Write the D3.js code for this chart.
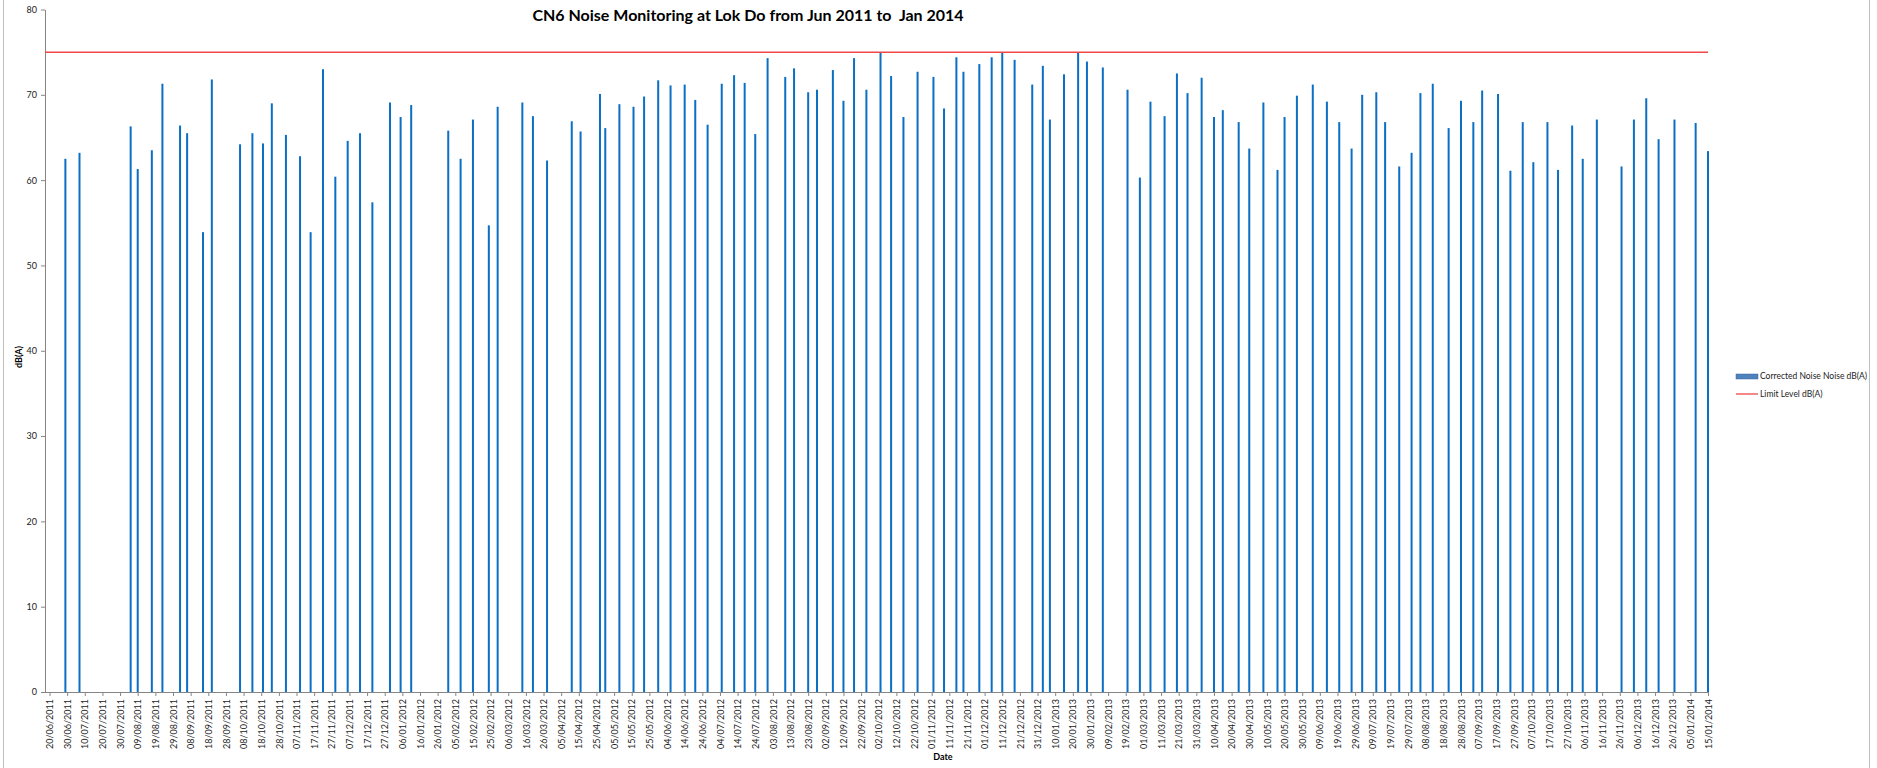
<!DOCTYPE html>
<html>
<head>
<meta charset="utf-8">
<script src="https://cdn.jsdelivr.net/npm/d3@7"></script>
<style>
  body { margin: 0; background: #fff; }
  svg { display: block; font-family: Lato, "Open Sans", sans-serif; }
  .tick text { fill: #222; }
  .axis path, .axis line { stroke: #868686; }
</style>
</head>
<body>
<script>
const WIDTH = 1877
const HEIGHT = 768
const AXIS_X = 45
const PLOT_LEFT = 49.5
const PLOT_RIGHT = 1708
const PLOT_TOP = 9.5
const PLOT_BOTTOM = 692

// measurement dates and corrected noise levels, dB(A)
var dates = [
  "29/06/2011","07/07/2011","05/08/2011","09/08/2011","17/08/2011","23/08/2011","02/09/2011","06/09/2011",
  "15/09/2011","20/09/2011","06/10/2011","13/10/2011","19/10/2011","24/10/2011","01/11/2011","09/11/2011",
  "15/11/2011","22/11/2011","29/11/2011","06/12/2011","13/12/2011","20/12/2011","30/12/2011",
  "05/01/2012","11/01/2012","01/02/2012","08/02/2012","15/02/2012","24/02/2012","29/02/2012","14/03/2012",
  "20/03/2012","28/03/2012","11/04/2012","16/04/2012","27/04/2012","30/04/2012","08/05/2012","16/05/2012",
  "22/05/2012","30/05/2012","06/06/2012","14/06/2012","20/06/2012","27/06/2012","05/07/2012","12/07/2012",
  "18/07/2012","24/07/2012","31/07/2012","10/08/2012","15/08/2012","23/08/2012","28/08/2012","06/09/2012",
  "12/09/2012","18/09/2012","25/09/2012","03/10/2012","09/10/2012","16/10/2012","24/10/2012","02/11/2012",
  "08/11/2012","15/11/2012","19/11/2012","28/11/2012","05/12/2012","11/12/2012","18/12/2012","28/12/2012",
  "03/01/2013","07/01/2013","15/01/2013","23/01/2013","28/01/2013","06/02/2013","20/02/2013","27/02/2013",
  "05/03/2013","13/03/2013","20/03/2013","26/03/2013","03/04/2013","10/04/2013","15/04/2013","24/04/2013",
  "30/04/2013","08/05/2013","16/05/2013","20/05/2013","27/05/2013","05/06/2013","13/06/2013","20/06/2013",
  "27/06/2013","03/07/2013","11/07/2013","16/07/2013","24/07/2013","31/07/2013","05/08/2013","12/08/2013",
  "21/08/2013","28/08/2013","04/09/2013","09/09/2013","18/09/2013","25/09/2013","02/10/2013","08/10/2013",
  "16/10/2013","22/10/2013","30/10/2013","05/11/2013","13/11/2013","27/11/2013","04/12/2013","11/12/2013",
  "18/12/2013","27/12/2013","08/01/2014","15/01/2014"
]
var noise = [
  62.5,63.2,66.3,61.3,63.5,71.3,66.4,65.5,
  53.9,71.8,64.2,65.5,64.3,69.0,65.3,62.8,
  53.9,73.0,60.4,64.6,65.5,57.4,69.1,
  67.4,68.8,65.8,62.5,67.1,54.7,68.6,69.1,
  67.5,62.3,66.9,65.7,70.1,66.1,68.9,68.6,
  69.8,71.7,71.1,71.2,69.4,66.5,71.3,72.3,
  71.4,65.4,74.3,72.1,73.1,70.3,70.6,72.9,
  69.3,74.3,70.6,75.0,72.2,67.4,72.7,72.1,
  68.4,74.4,72.7,73.6,74.4,75.0,74.1,71.2,
  73.4,67.1,72.4,75.0,73.9,73.2,70.6,60.3,
  69.2,67.5,72.5,70.2,72.0,67.4,68.2,66.8,
  63.7,69.1,61.2,67.4,69.9,71.2,69.2,66.8,
  63.7,70.0,70.3,66.8,61.6,63.2,70.2,71.3,
  66.1,69.3,66.8,70.5,70.1,61.1,66.8,62.1,
  66.8,61.2,66.4,62.5,67.1,61.6,67.1,69.6,
  64.8,67.1,66.7,63.4
]
var limitLevel = 75
var yTicks = [0,10,20,30,40,50,60,70,80]
var axisStart = "20/06/2011"
var axisEnd = "15/01/2014"
var tickStepDays = 10

var title = "CN6 Noise Monitoring at Lok Do from Jun 2011 to  Jan 2014"
var seriesNames = ["Corrected Noise Noise dB(A)", "Limit Level dB(A)"]

var parseDate = d3.timeParse("%d/%m/%Y")
var formatDate = d3.timeFormat("%d/%m/%Y")

var createChart = function(){
    var svg = d3.select("body").append("svg")
        .attr("width", WIDTH)
        .attr("height", HEIGHT);

    // chart area border
    svg.append("rect")
        .attr("x", 3.5).attr("y", -2)
        .attr("width", 1866).attr("height", HEIGHT + 4)
        .attr("fill", "none")
        .attr("stroke", "#bfbfbf");

    var start = parseDate(axisStart), end = parseDate(axisEnd);
    var x = d3.scaleTime().domain([start, end]).range([PLOT_LEFT, PLOT_RIGHT]);
    var y = d3.scaleLinear().domain([0, 80]).range([PLOT_BOTTOM, PLOT_TOP]);

    createAxes(svg, x, y, start, end);
    createBars(svg, x, y);
    createLimit(svg, x, y, end);
    createTitles(svg);
    createLegend(svg);
}

var createAxes = function(svg, x, y, start, end){
    var tickDates = d3.timeDay.range(start, d3.timeDay.offset(end, 1), tickStepDays);

    var xAxis = svg.append("g").classed("axis", true)
        .attr("transform", "translate(0," + PLOT_BOTTOM + ")")
        .call(d3.axisBottom(x).tickValues(tickDates).tickFormat(formatDate)
              .tickSize(4).tickSizeOuter(0));
    xAxis.select(".domain").remove();
    xAxis.append("line")
        .attr("x1", AXIS_X).attr("x2", x(end) + 0.5)
        .attr("y1", 0.5).attr("y2", 0.5);
    xAxis.selectAll("text")
        .attr("transform", "rotate(-90)")
        .attr("text-anchor", "end")
        .attr("x", -7)
        .attr("y", 0)
        .attr("dy", "0.35em")
        .style("font-size", "9px")
        .style("font-family", "Lato");

    var yAxis = svg.append("g").classed("axis", true)
        .attr("transform", "translate(" + AXIS_X + ",0)")
        .call(d3.axisLeft(y).tickValues(yTicks).tickSize(4).tickSizeOuter(0));
    yAxis.selectAll("text")
        .attr("x", -8)
        .style("font-size", "9px")
        .style("font-family", "Lato");
}

var createBars = function(svg, x, y){
    var rows = dates.map(function(d, i){ return {date: parseDate(d), value: noise[i]}; });
    svg.append("g").selectAll("rect")
        .data(rows)
        .enter().append("rect")
        .attr("x", function(d){ return x(d.date) - 1; })
        .attr("y", function(d){ return y(d.value); })
        .attr("width", 2)
        .attr("height", function(d){ return y(0) - y(d.value); })
        .attr("fill", "#0b6fc4");
}

var createLimit = function(svg, x, y, end){
    svg.append("line")
        .attr("x1", AXIS_X).attr("x2", x(end))
        .attr("y1", y(limitLevel)).attr("y2", y(limitLevel))
        .attr("stroke", "#f04848")
        .attr("stroke-width", 1.5);
}

var createTitles = function(svg){
    svg.append("text")
        .attr("x", 748).attr("y", 21)
        .attr("text-anchor", "middle")
        .style("white-space", "pre")
        .style("font-size", "16px").style("font-weight", "bold")
        .text(title);
    svg.append("text")
        .attr("transform", "translate(22,357) rotate(-90)")
        .attr("text-anchor", "middle")
        .style("font-size", "9px").style("font-weight", "bold")
        .text("dB(A)");
    svg.append("text")
        .attr("x", 943).attr("y", 760)
        .attr("text-anchor", "middle")
        .style("font-size", "9px").style("font-weight", "bold")
        .text("Date");
}

var createLegend = function(svg){
    var g = svg.append("g").attr("transform", "translate(1736,0)");
    g.append("rect")
        .attr("x", 0).attr("y", 374)
        .attr("width", 22).attr("height", 5)
        .attr("fill", "#4f81bd").attr("stroke", "#3a6aa5").attr("stroke-width", 0.5);
    g.append("line")
        .attr("x1", 0).attr("x2", 22)
        .attr("y1", 394).attr("y2", 394)
        .attr("stroke", "#f06060").attr("stroke-width", 1.5);
    g.selectAll("text")
        .data(seriesNames)
        .enter().append("text")
        .attr("x", 24)
        .attr("y", function(d, i){ return 376.5 + i * 17.5; })
        .attr("dy", "0.35em")
        .style("font-size", "8.5px")
        .style("fill", "#222")
        .text(function(d){ return d; });
}

createChart();
</script>
</body>
</html>
